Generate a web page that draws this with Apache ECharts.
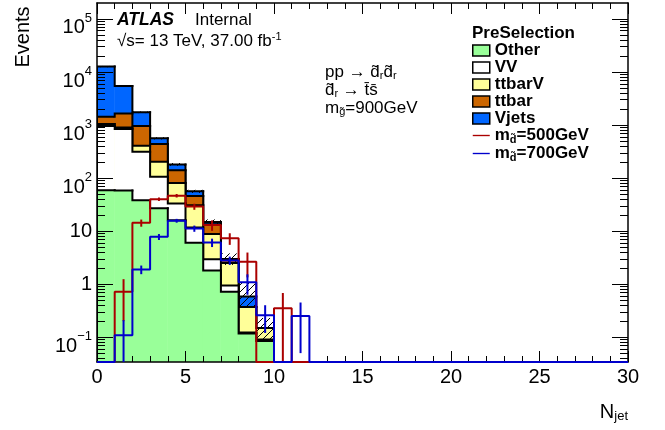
<!DOCTYPE html>
<html>
<head>
<meta charset="utf-8">
<script src="https://cdn.jsdelivr.net/npm/echarts@6.0.0/dist/echarts.min.js"></script>
<style>
  html, body { margin: 0; padding: 0; background: #fff; }
  #chart { width: 665px; height: 430px; }
</style>
</head>
<body>
<div id="chart"></div>
<script>
// N_jet bins: lower edges, width 1
const binLow = [0, 1, 2, 3, 4, 5, 6, 7, 8, 9, 10, 11, 12, 13, 14, 15, 16, 17, 18, 19, 20, 21, 22, 23, 24, 25, 26, 27, 28, 29]

// backgrounds (per bin, events)
const other  = [59, 58, 38, 27, 16, 6.0, 1.8, 0.72, 0.117, 0.085, 0, 0, 0, 0, 0, 0, 0, 0, 0, 0, 0, 0, 0, 0, 0, 0, 0, 0, 0, 0]
const vv     = [900, 780, 275, 79, 17, 5.7, 1.16, 0.22, 0.005, 0.005, 0, 0, 0, 0, 0, 0, 0, 0, 0, 0, 0, 0, 0, 0, 0, 0, 0, 0, 0, 0]
const ttbarV = [90, 60, 92, 97, 48, 19, 5.84, 1.55, 0.25, 0.058, 0, 0, 0, 0, 0, 0, 0, 0, 0, 0, 0, 0, 0, 0, 0, 0, 0, 0, 0, 0]
const ttbar  = [390, 760, 555, 234, 60, 15, 4.6, 0.45, 0, 0, 0, 0, 0, 0, 0, 0, 0, 0, 0, 0, 0, 0, 0, 0, 0, 0, 0, 0, 0, 0]
const vjets  = [11200, 3800, 780, 124, 39, 10.5, 1.4, 0.05, 0.21, 0, 0, 0, 0, 0, 0, 0, 0, 0, 0, 0, 0, 0, 0, 0, 0, 0, 0, 0, 0, 0]

// stat. uncertainty band on the total background
const bandLo = [12300, 5300, 1680, 535, 170, 52.5, 13.2, 2.3, 0.37, 0.09, 0, 0, 0, 0, 0, 0, 0, 0, 0, 0, 0, 0, 0, 0, 0, 0, 0, 0, 0, 0]
const bandHi = [13000, 5620, 1800, 590, 192, 60, 16.6, 3.8, 1.05, 0.23, 0, 0, 0, 0, 0, 0, 0, 0, 0, 0, 0, 0, 0, 0, 0, 0, 0, 0, 0, 0]

// signals
const sig500 = [0, 0.72, 14.3, 40, 46.5, 29, 13, 7.3, 2.64, 0, 0.35, 0, 0, 0, 0, 0, 0, 0, 0, 0, 0, 0, 0, 0, 0, 0, 0, 0, 0, 0]
const err500 = [0, 0.52, 2.2, 3, 3.5, 3.8, 2.9, 1.8, 1.3, 0, 0.33, 0, 0, 0, 0, 0, 0, 0, 0, 0, 0, 0, 0, 0, 0, 0, 0, 0, 0, 0]
const sig700 = [0, 0.109, 1.89, 7.8, 15.7, 11.2, 6.1, 2.8, 1.08, 0.26, 0, 0.25, 0, 0, 0, 0, 0, 0, 0, 0, 0, 0, 0, 0, 0, 0, 0, 0, 0, 0]
const err700 = [0, 0.1, 0.35, 1.0, 1.3, 1.5, 1.1, 0.5, 0.45, 0.14, 0, 0.2, 0, 0, 0, 0, 0, 0, 0, 0, 0, 0, 0, 0, 0, 0, 0, 0, 0, 0]

// axis ticks
const xTicks = [0, 5, 10, 15, 20, 25, 30]
const yPowers = [-1, 0, 1, 2, 3, 4, 5]

const YMIN = 0.034
const YMAX = 2.0e5
const FLOOR = YMIN / 100
const LMIN = Math.log10(YMIN)
const LMAX = Math.log10(YMAX)
const FONT = '"Liberation Sans", Arial, Helvetica, sans-serif'

const yMinor = []
for (let p = -2; p <= 5; p++) {
  for (let m = 2; m <= 9; m++) {
    const l = p + Math.log10(m)
    if (l > LMIN && l < LMAX) yMinor.push(l)
  }
}

const layers = [
  { name: 'Other', values: other, color: '#99ff99' },
  { name: 'VV', values: vv, color: '#ffffff' },
  { name: 'ttbarV', values: ttbarV, color: '#ffff99' },
  { name: 'ttbar', values: ttbar, color: '#cc6600' },
  { name: 'Vjets', values: vjets, color: '#0066ff' }
]
let run = binLow.map(() => 0)
const cumul = layers.map((l) => {
  run = run.map((s, i) => s + l.values[i])
  return run
})

function hatchCanvas() {
  const c = document.createElement('canvas')
  c.width = 7
  c.height = 7
  const g = c.getContext('2d')
  g.strokeStyle = '#000'
  g.lineWidth = 1
  g.beginPath()
  g.moveTo(-1, 8); g.lineTo(8, -1)
  g.moveTo(-1, 1); g.lineTo(1, -1)
  g.moveTo(6, 8); g.lineTo(8, 6)
  g.stroke()
  return c
}
const hatch = { image: hatchCanvas(), repeat: 'repeat' }

function pos(v) {
  return v > 0 ? v : FLOOR
}

function stackSeries(layer, top) {
  return {
    name: layer.name,
    type: 'custom',
    clip: true,
    itemStyle: { color: layer.color, borderColor: '#000', borderWidth: 1.5 },
    data: binLow.map((x, i) => [x, pos(top[i]), pos(i ? top[i - 1] : 0)]),
    renderItem: (params, api) => {
      const x = api.value(0)
      const a = api.coord([x, FLOOR])
      const b = api.coord([x + 1, api.value(1)])
      const p = api.coord([x, api.value(2)])
      return {
        type: 'group',
        children: [
          { type: 'rect', shape: { x: a[0] - 0.5, y: b[1], width: b[0] - a[0] + 0.5, height: a[1] - b[1] }, style: { fill: layer.color } },
          { type: 'polyline', shape: { points: [p, [a[0], b[1]], b] }, style: { stroke: '#000', lineWidth: 2, fill: null, lineCap: 'square' } }
        ]
      }
    }
  }
}

// zero bins sit on the bottom frame, as ROOT draws them
function signalSeries(name, values, color) {
  const pts = binLow.map((x, i) => [x, Math.max(values[i], YMIN)])
  pts.push([binLow[binLow.length - 1] + 1, pts[pts.length - 1][1]])
  return {
    name,
    type: 'line',
    step: 'end',
    data: pts,
    symbol: 'none',
    clip: false,
    z: 6,
    lineStyle: { color, width: 2 },
    itemStyle: { color }
  }
}

function errorSeries(name, values, errs, color) {
  return {
    name,
    type: 'custom',
    clip: true,
    z: 6,
    data: binLow.map((x, i) => [x, values[i], errs[i]]).filter((d) => d[1] > 0),
    renderItem: (params, api) => {
      const x = api.value(0) + 0.5
      const v = api.value(1)
      const e = api.value(2)
      const t = api.coord([x, v + e])
      const b = api.coord([x, Math.max(v - e, FLOOR)])
      return { type: 'line', shape: { x1: t[0], y1: t[1], x2: b[0], y2: b[1] }, style: { stroke: color, lineWidth: 2 } }
    }
  }
}

const bandSeries = {
  name: 'stat',
  type: 'custom',
  clip: true,
  data: binLow.map((x, i) => [x, pos(bandLo[i]), pos(bandHi[i])]),
  renderItem: (params, api) => {
    const x = api.value(0)
    if (!(api.value(2) > api.value(1))) return null
    const a = api.coord([x, api.value(1)])
    const b = api.coord([x + 1, api.value(2)])
    return { type: 'rect', shape: { x: a[0], y: b[1], width: b[0] - a[0], height: a[1] - b[1] }, style: { fill: hatch } }
  }
}

function yTickAxis(position, values, length, withLabels, line) {
  return {
    type: 'value',
    position,
    min: LMIN,
    max: LMAX,
    z: 5,
    axisLine: { show: line, onZero: false, lineStyle: { color: '#000', width: 1.5 } },
    splitLine: { show: false },
    axisTick: { show: true, inside: true, length, customValues: values, lineStyle: { color: '#000', width: 1 } },
    axisLabel: withLabels ? {
      show: true,
      customValues: yPowers,
      margin: 5,
      color: '#000',
      fontSize: 20,
      fontFamily: FONT,
      formatter: (v) => {
        const p = Math.round(v)
        if (p === 0) return '1'
        if (p === 1) return '10'
        return '{b|10}{sup|' + (p < 0 ? '\u2212' + (-p) : p) + '}'
      },
      rich: {
        b: { fontSize: 20, fontFamily: FONT, color: '#000', padding: [18, 0, 0, 0] },
        sup: { fontSize: 13, fontFamily: FONT, color: '#000', padding: [0, 0, 1, 0] }
      }
    } : { show: false }
  }
}

function xAxisDef(position, withLabels) {
  return {
    type: 'value',
    position,
    min: 0,
    max: 30,
    interval: 5,
    z: 5,
    axisLine: { show: true, onZero: false, lineStyle: { color: '#000', width: 1.5 } },
    axisTick: { show: true, inside: true, length: 11, customValues: xTicks, lineStyle: { color: '#000', width: 1 } },
    minorTick: { show: true, splitNumber: 5, length: 6, lineStyle: { color: '#000', width: 1 } },
    splitLine: { show: false },
    minorSplitLine: { show: false },
    axisLabel: withLabels ? { show: true, customValues: xTicks, margin: 5, color: '#000', fontSize: 20, fontFamily: FONT } : { show: false }
  }
}

const legendText = {
  'Other': 'Other',
  'VV': 'VV',
  'ttbarV': 'ttbarV',
  'ttbar': 'ttbar',
  'Vjets': 'Vjets',
  'm_d=500GeV': 'm{sub|d\u0303}=500GeV',
  'm_d=700GeV': 'm{sub|d\u0303}=700GeV'
}
const boxStyle = { borderColor: '#000', borderWidth: 1.5 }
const lineIcon = 'path://M0,-5L0,-5M0,0L20,0L20,1.6L0,1.6ZM0,6.6L0,6.6'

const txt = { fontFamily: FONT, fontSize: 17, fill: '#000' }
const sub = { fontFamily: FONT, fontSize: 11, fill: '#000', padding: [8, 0, 0, 0] }

const chart = echarts.init(document.getElementById('chart'), null, { renderer: 'canvas' })
chart.setOption({
  animation: false,
  backgroundColor: '#fff',
  grid: { left: 97, right: 37, top: 3, bottom: 68, containLabel: false, outerBoundsMode: 'none' },
  xAxis: [xAxisDef('bottom', true), xAxisDef('top', false)],
  yAxis: [
    { type: 'log', min: YMIN, max: YMAX, show: false },
    yTickAxis('left', yPowers, 16, true, true),
    yTickAxis('left', yMinor, 8, false, false),
    yTickAxis('right', yPowers, 16, false, true),
    yTickAxis('right', yMinor, 8, false, false)
  ],
  legend: {
    orient: 'vertical',
    left: 472,
    top: 42,
    padding: 0,
    itemWidth: 17,
    itemHeight: 11,
    itemGap: 0,
    selectedMode: false,
    data: [
      { name: 'Other', icon: 'rect', itemStyle: boxStyle },
      { name: 'VV', icon: 'rect', itemStyle: boxStyle },
      { name: 'ttbarV', icon: 'rect', itemStyle: boxStyle },
      { name: 'ttbar', icon: 'rect', itemStyle: boxStyle },
      { name: 'Vjets', icon: 'rect', itemStyle: boxStyle },
      { name: 'm_d=500GeV', icon: lineIcon, itemStyle: { borderWidth: 0 } },
      { name: 'm_d=700GeV', icon: lineIcon, itemStyle: { borderWidth: 0 } }
    ],
    formatter: (name) => legendText[name],
    textStyle: {
      color: '#000',
      fontFamily: FONT,
      fontWeight: 'bold',
      fontSize: 17,
      lineHeight: 16.7,
      rich: {
        sub: { color: '#000', fontFamily: FONT, fontWeight: 'bold', fontSize: 11, padding: [8, 0, 0, 0] }
      }
    }
  },
  graphic: [
    { type: 'text', x: 117, y: 20, style: { text: 'ATLAS', fontFamily: FONT, fontSize: 17.5, fontWeight: 'bold', fontStyle: 'italic', fill: '#000', verticalAlign: 'middle' } },
    { type: 'text', x: 195, y: 20, style: { text: 'Internal', fontFamily: FONT, fontSize: 17, fill: '#000', verticalAlign: 'middle' } },
    {
      type: 'text', x: 117, y: 41,
      style: {
        text: '{b|\u221As= 13 TeV, 37.00 fb}{sup|-1}', verticalAlign: 'middle', fill: '#000',
        rich: { b: txt, sup: { fontFamily: FONT, fontSize: 11, fill: '#000', padding: [0, 0, 9, 0] } }
      }
    },
    {
      type: 'text', x: 325, y: 72,
      style: { text: '{b|pp \u2192 d\u0303}{s|r}{b|d\u0303}{s|r}', verticalAlign: 'middle', rich: { b: txt, s: sub } }
    },
    {
      type: 'text', x: 325, y: 90,
      style: { text: '{b|d\u0303}{s|r}{b| \u2192 t\u0304s\u0304}', verticalAlign: 'middle', rich: { b: txt, s: sub } }
    },
    {
      type: 'text', x: 325, y: 108,
      style: { text: '{b|m}{s|g\u0303}{b|=900GeV}', verticalAlign: 'middle', rich: { b: txt, s: sub } }
    },
    { type: 'text', x: 472, y: 33, style: { text: 'PreSelection', fontFamily: FONT, fontSize: 17, fontWeight: 'bold', fill: '#000', verticalAlign: 'middle' } },
    { type: 'text', x: 23, y: 37, rotation: Math.PI / 2, style: { text: 'Events', fontFamily: FONT, fontSize: 20, fill: '#000', align: 'center', verticalAlign: 'middle' } },
    {
      type: 'text', x: 628, y: 412,
      style: {
        text: '{b|N}{s|jet}', align: 'right', verticalAlign: 'middle',
        rich: { b: { fontFamily: FONT, fontSize: 20, fill: '#000' }, s: { fontFamily: FONT, fontSize: 13, fill: '#000', padding: [9, 0, 0, 0] } }
      }
    }
  ],
  series: [
    stackSeries(layers[4], cumul[4]),
    stackSeries(layers[3], cumul[3]),
    stackSeries(layers[2], cumul[2]),
    stackSeries(layers[1], cumul[1]),
    stackSeries(layers[0], cumul[0]),
    bandSeries,
    signalSeries('m_d=500GeV', sig500, '#aa0000'),
    errorSeries('err500', sig500, err500, '#aa0000'),
    signalSeries('m_d=700GeV', sig700, '#0000cc'),
    errorSeries('err700', sig700, err700, '#0000cc')
  ]
})
</script>
</body>
</html>
